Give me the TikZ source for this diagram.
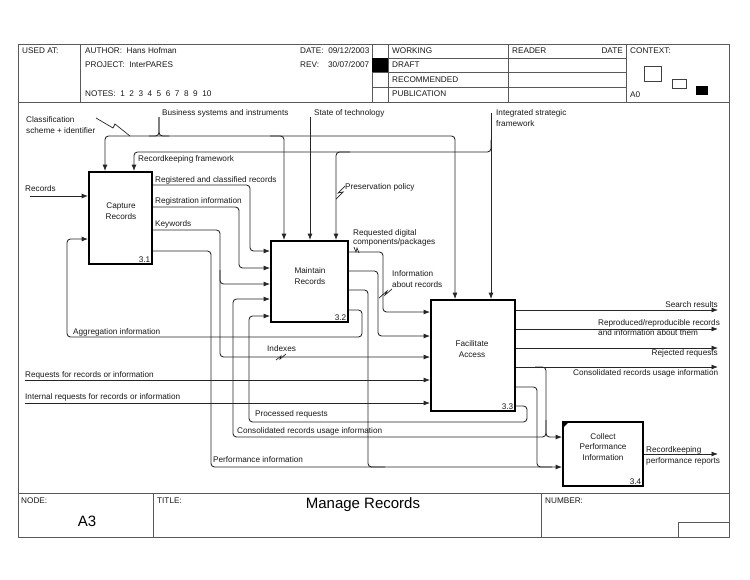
\documentclass[tikz,border=0pt]{standalone}
\usepackage{fontspec}
\setmainfont{Liberation Sans}
\usetikzlibrary{arrows.meta}
\tikzset{
  conn/.style={line width=0.85pt, draw=black!85, rounded corners=3.5pt},
  arr/.style={conn, -{Latex[length=6.5pt,width=5pt]}},
  zig/.style={line width=0.7pt, draw=black!85},
  lbl/.style={font=\fontsize{8.2}{10}\selectfont, inner sep=0pt, anchor=base west, text=black!90},
  lblr/.style={lbl, anchor=base east},
  boxtxt/.style={font=\fontsize{8.2}{10.8}\selectfont, inner sep=0pt, align=center, text=black!90},
  num/.style={font=\fontsize{8.2}{10}\selectfont, inner sep=0pt, anchor=south east, text=black!90, xshift=-2.5pt, yshift=2pt},
  fbox/.style={draw=black, fill=white, line width=1.8pt, inner sep=0pt},
  frm/.style={draw=black!65, line width=0.9pt},
  hdr/.style={draw=black!65, line width=0.7pt},
  big/.style={font=\fontsize{15}{17}\selectfont, inner sep=0pt, text=black},
}
\begin{document}
\begin{tikzpicture}[x=1pt,y=-1pt]
\useasboundingbox (0,0) rectangle (750,579);
\fill[white] (0,0) rectangle (750,579);

% ---------- frame and form ----------
\draw[frm] (18,44) rectangle (729,537);
\draw[hdr] (18,102) -- (729,102);
\foreach \xx in {80,372,388,508,626} \draw[hdr] (\xx,44) -- (\xx,102);
\foreach \yy in {58,72,87} \draw[hdr] (372,\yy) -- (626,\yy);
\fill (372,58) rectangle (388,72);
\draw[hdr, draw=black!75] (644,66) rectangle (661,81);
\draw[hdr, draw=black!75] (672,79) rectangle (686,88);
\fill (696,86) rectangle (708,95);
\draw[frm] (18,493) -- (729,493);
\draw[hdr] (153,493) -- (153,537);
\draw[hdr] (541,493) -- (541,537);
\draw[hdr] (678,537) |- (729,522);

\node[lbl] (h1) at (22,53) {USED AT:};
\node[lbl] (h2) at (85,53) {AUTHOR:\ \ Hans Hofman};
\node[lbl] (h3) at (85,67) {PROJECT:\ \ InterPARES};
\node[lbl] (h4) at (85,96) {NOTES:\ \ 1\ \ 2\ \ 3\ \ 4\ \ 5\ \ 6\ \ 7\ \ 8\ \ 9\ \ 10};
\node[lbl] (h5) at (300,53) {DATE:\ \ 09/12/2003};
\node[lbl] (h6) at (300,67) {REV:\ \ \ \ 30/07/2007};
\node[lbl] (h7) at (392,53) {WORKING};
\node[lbl] (h8) at (392,67) {DRAFT};
\node[lbl] (h9) at (392,82) {RECOMMENDED};
\node[lbl] (h10) at (392,96) {PUBLICATION};
\node[lbl] (h11) at (512,53) {READER};
\node[lblr] (h12) at (623,53) {DATE};
\node[lbl] (h13) at (630,53) {CONTEXT:};
\node[lbl] (h14) at (630,97) {A0};
\node[lbl] (f1) at (21,503) {NODE:};
\node[lbl] (f2) at (157,503) {TITLE:};
\node[lbl] (f3) at (545,503) {NUMBER:};
\node[big] (f4) at (87,521) {A3};
\node[big] (f5) at (363,505) {Manage Records};

% ---------- activity boxes ----------
\node[fbox, minimum width=63pt, minimum height=92pt] (c1) at (120.5,218) {};
\node[fbox, minimum width=77pt, minimum height=81pt] (c2) at (309.5,281.5) {};
\node[fbox, minimum width=84pt, minimum height=111pt] (c3) at (473,355.5) {};
\node[fbox, minimum width=80pt, minimum height=64pt] (c4) at (603,454) {};
\fill (c4.north west) ++(0.8,0.8) -- ++(6,0) -- ++(-6,6) -- cycle;

\node[boxtxt] (c1t) at (121,211) {Capture\\Records};
\node[boxtxt] (c2t) at (310,276) {Maintain\\Records};
\node[boxtxt] (c3t) at (472,349) {Facilitate\\Access};
\node[boxtxt] (c4t) at (603,447) {Collect\\Performance\\Information};
\node[num] (n1) at (c1.south east) {3.1};
\node[num] (n2) at (c2.south east) {3.2};
\node[num] (n3) at (c3.south east) {3.3};
\node[num] (n4) at (c4.south east) {3.4};

% ---------- free ends ----------
\coordinate (recIn) at (30,196);
\coordinate (reqIn) at (25,380);
\coordinate (intIn) at (25,403);
\coordinate (bsi) at (159,117);
\coordinate (sot) at (310,117);
\coordinate (isf) at (491,113);
\coordinate (srOut) at (718,310);
\coordinate (rpOut) at (718,329);
\coordinate (rjOut) at (718,348);
\coordinate (cuOut) at (718,367);
\coordinate (rkOut) at (718,454);

% ---------- controls ----------
\draw[conn] (bsi) |- (149,136);
\draw[conn] (bsi) |- (169,136);
\draw[arr] (159,136) -| (105,0 |- c1.north);
\draw[arr] (159,136) -| (455,0 |- c3.north);
\draw[arr] (270,136) -| (284,0 |- c2.north);
\draw[arr] (sot) -- (sot |- c2.north);
\draw[arr] (isf) -- (isf |- c3.north);
\draw[arr] (491,140) |- (300,152) -| (134,0 |- c1.north);
\draw[arr] (350,152) -| (336,0 |- c2.north);

% ---------- inputs ----------
\draw[arr] (recIn) -- (c1.west |- recIn);
\draw[arr] (reqIn) -- (c3.west |- reqIn);
\draw[arr] (intIn) -- (c3.west |- intIn);

% ---------- outputs of 3.1 ----------
\draw[arr] (c1.east |- 0,185) -| (250,251) -- (c2.west |- 0,251);
\draw[arr] (c1.east |- 0,207) -| (239,268) -- (c2.west |- 0,268);
\draw[arr] (c1.east |- 0,230) -| (220,357) -- (c3.west |- 0,357);
\draw[arr] (220,270) |- (c2.west |- 0,284);
\draw[arr] (c1.east |- 0,251) -| (211,467) -- (c4.west |- 0,467);

% ---------- outputs of 3.2 ----------
\draw[arr] (c2.east |- 0,252) -| (383,312) -- (c3.west |- 0,312);
\draw[arr] (c2.east |- 0,271) -| (378,336) -- (c3.west |- 0,336);
\draw[conn] (c2.east |- 0,290) -| (368,467) -- (385,467);
\draw[arr] (c2.east |- 0,310) -| (362,337) -| (67,239) -- (c1.west |- 0,239);

% ---------- outputs of 3.3 ----------
\draw[arr] (c3.east |- srOut) -- (srOut);
\draw[arr] (c3.east |- rpOut) -- (rpOut);
\draw[arr] (c3.east |- rjOut) -- (rjOut);
\draw[arr] (c3.east |- cuOut) -- (cuOut);
\draw[arr] (535,367) -| (546,437) -- (c4.west |- 0,437);
\draw[arr] (546,420) |- (233,437) |- (c2.west |- 0,299);
\draw[conn] (c3.east |- 0,387) -| (537,467) -- (552,467);
\draw[arr] (c3.east |- 0,406) -| (527,422) -| (249,316) -- (c2.west |- 0,316);

% ---------- output of 3.4 ----------
\draw[arr] (c4.east |- rkOut) -- (rkOut);

% ---------- squiggles ----------
\draw[zig] (96,118) -- (113,128) -- (115,124) -- (130,136);
\draw[zig] (345,186) -- (338,193) -- (343,192) -- (336,199);
\draw[zig] (392,289) -- (385,295) -- (387,291) -- (379,298);
\draw[zig] (276,360) -- (281,356) -- (280,359) -- (286,354);
\draw[zig] (354,247) -- (356,252) -- (357,248) -- (359,253);

% ---------- labels ----------
\node[lbl] (l1) at (26,122) {Classification};
\node[lbl] (l2) at (26,133) {scheme + identifier};
\node[lbl] (l3) at (162,115) {Business systems and instruments};
\node[lbl] (l4) at (314,115) {State of technology};
\node[lbl] (l5) at (496,115) {Integrated strategic};
\node[lbl] (l6) at (496,126) {framework};
\node[lbl] (l7) at (138,161) {Recordkeeping framework};
\node[lbl] (l8) at (25,191) {Records};
\node[lbl] (l9) at (155,182) {Registered and classified records};
\node[lbl] (l10) at (155,203) {Registration information};
\node[lbl] (l11) at (155,226) {Keywords};
\node[lbl] (l12) at (345,189) {Preservation policy};
\node[lbl] (l13) at (353,235) {Requested digital};
\node[lbl] (l14) at (353,244) {components/packages};
\node[lbl] (l15) at (392,276) {Information};
\node[lbl] (l16) at (392,287) {about records};
\node[lbl] (l17) at (73,334) {Aggregation information};
\node[lbl] (l18) at (267,351) {Indexes};
\node[lbl] (l19) at (25,377) {Requests for records or information};
\node[lbl] (l20) at (25,399) {Internal requests for records or information};
\node[lbl] (l21) at (255,416) {Processed requests};
\node[lbl] (l22) at (237,433) {Consolidated records usage information};
\node[lbl] (l23) at (213,462) {Performance information};
\node[lblr] (l24) at (718,307) {Search results};
\node[lbl] (l25) at (598,325) {Reproduced/reproducible records};
\node[lbl] (l26) at (598,335) {and information about them};
\node[lblr] (l27) at (718,355) {Rejected requests};
\node[lbl] (l28) at (573,375) {Consolidated records usage information};
\node[lbl] (l29) at (646,452) {Recordkeeping};
\node[lbl] (l30) at (646,463) {performance reports};
\end{tikzpicture}
\end{document}
